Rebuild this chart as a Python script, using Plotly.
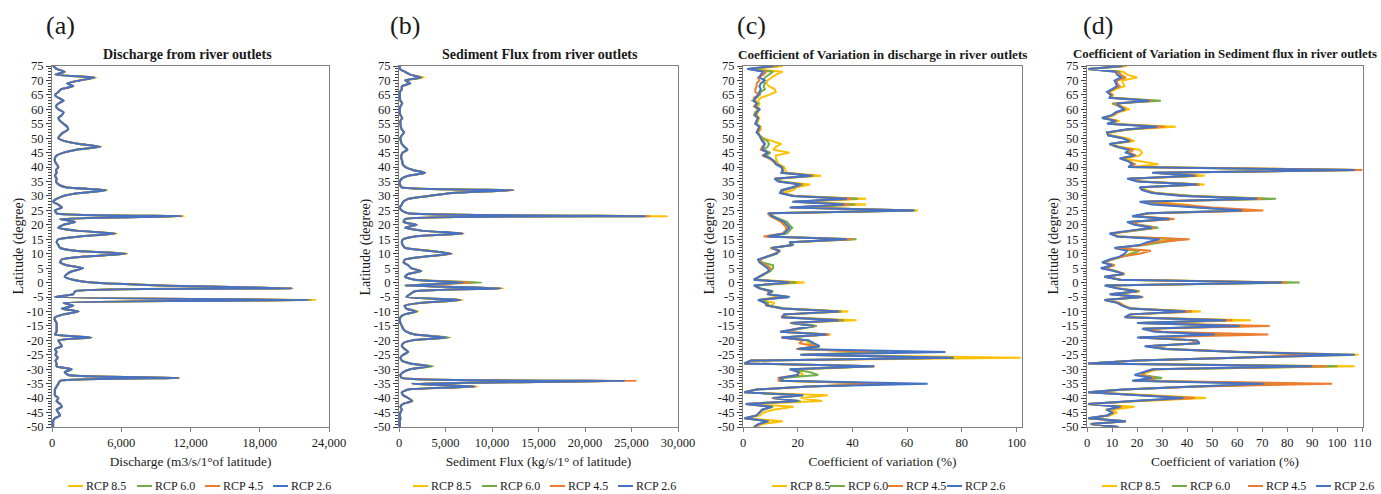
import plotly.graph_objects as go

W, H = 1381, 494

# ---------------- data (latitude from 75 down to -50, 1 degree step) ----------------
lat = list(range(75, -51, -1))

y_tick_vals = [75, 70, 65, 60, 55, 50, 45, 40, 35, 30, 25, 20, 15, 10, 5, 0,
               -5, -10, -15, -20, -25, -30, -35, -40, -45, -50]
y_tick_text = ["75", "70", "65", "60", "55", "50", "45", "40", "35", "30", "25", "20", "15", "10", "5", "0",
               "-5", "-10", "-15", "-20", "-25", "-30", "-35", "-40", "-45", "-50"]

series_names = ["RCP 8.5", "RCP 6.0", "RCP 4.5", "RCP 2.6"]
series_colors = ["#FFC000", "#70AD47", "#ED7D31", "#4472C4"]

# (a) Discharge (m3/s per 1 deg latitude)
a_rcp85 = [100, 400, 1100, 300, 3850, 2400, 1300, 1850, 800, 550,
           250, 550, 1000, 550, 350, 550, 1000, 850, 550, 700,
           1000, 1300, 1400, 1000, 700, 550, 1100, 2400, 4300, 2100,
           1000, 400, 250, 250, 400, 550, 350, 400, 250, 400,
           350, 550, 1200, 4800, 2400, 1000, 400, 100, 550, 850,
           250, 400, 11450, 700, 2000, 1000, 550, 2100, 5650, 2400,
           550, 400, 550, 700, 2000, 6500, 2800, 850, 700, 1300,
           2700, 1800, 1300, 1100, 1800, 3500, 9500, 20900, 2000, 1850,
           250, 22900, 1000, 1850, 850, 2300, 1000, 250, 250, 400,
           400, 400, 400, 250, 3450, 550, 700, 850, 250, 400,
           300, 500, 300, 400, 400, 1700, 1100, 1400, 11000, 700,
           550, 400, 250, 250, 250, 550, 400, 700, 850, 400,
           550, 700, 250, 100, 100, 100]
a_rcp60 = [100, 400, 1100, 300, 3700, 2400, 1300, 1850, 800, 550,
           250, 550, 1000, 550, 350, 550, 1000, 850, 550, 700,
           1000, 1300, 1400, 1000, 700, 550, 1100, 2400, 4200, 2100,
           1000, 400, 250, 250, 400, 550, 350, 400, 250, 400,
           350, 550, 1200, 4700, 2400, 1000, 400, 100, 550, 850,
           250, 400, 11200, 700, 2000, 1000, 550, 2100, 5500, 2400,
           550, 400, 550, 700, 2000, 6400, 2800, 850, 700, 1300,
           2700, 1800, 1300, 1100, 1800, 3500, 9500, 20800, 2000, 1850,
           250, 22500, 1000, 1850, 850, 2300, 1000, 250, 250, 400,
           400, 400, 400, 250, 3450, 550, 700, 850, 250, 400,
           300, 500, 300, 400, 400, 1700, 1100, 1400, 11000, 700,
           550, 400, 250, 250, 250, 550, 400, 700, 850, 400,
           550, 700, 250, 100, 100, 100]
a_rcp45 = [100, 400, 1100, 300, 3700, 2400, 1300, 1850, 800, 550,
           250, 550, 1000, 550, 350, 550, 1000, 850, 550, 700,
           1000, 1300, 1400, 1000, 700, 550, 1100, 2400, 4200, 2100,
           1000, 400, 250, 250, 400, 550, 350, 400, 250, 400,
           350, 550, 1200, 4700, 2400, 1000, 400, 100, 550, 850,
           250, 400, 11300, 700, 2000, 1000, 550, 2100, 5500, 2400,
           550, 400, 550, 700, 2000, 6500, 2800, 850, 700, 1300,
           2700, 1800, 1300, 1100, 1800, 3500, 9500, 20800, 2000, 1850,
           250, 22300, 1000, 1850, 850, 2300, 1000, 250, 250, 400,
           400, 400, 400, 250, 3400, 550, 700, 850, 250, 400,
           300, 500, 300, 400, 400, 1700, 1100, 1400, 11000, 700,
           550, 400, 250, 250, 250, 550, 400, 700, 850, 400,
           550, 700, 250, 100, 100, 100]
a_rcp26 = [100, 400, 1100, 300, 3700, 2400, 1300, 1850, 800, 550,
           250, 550, 1000, 550, 350, 550, 1000, 850, 550, 700,
           1000, 1300, 1400, 1000, 700, 550, 1100, 2400, 4200, 2100,
           1000, 400, 250, 250, 400, 550, 350, 400, 250, 400,
           350, 550, 1200, 4700, 2400, 1000, 400, 100, 550, 850,
           250, 400, 11200, 700, 2000, 1000, 550, 2100, 5500, 2400,
           550, 400, 550, 700, 2000, 6400, 2800, 850, 700, 1300,
           2700, 1800, 1300, 1100, 1800, 3500, 9500, 20800, 2000, 1850,
           250, 22200, 1000, 1850, 850, 2300, 1000, 250, 250, 400,
           400, 400, 400, 250, 3400, 550, 700, 850, 250, 400,
           300, 500, 300, 400, 400, 1700, 1100, 1400, 11000, 700,
           550, 400, 250, 250, 250, 550, 400, 700, 850, 400,
           550, 700, 250, 100, 100, 100]

# (b) Sediment flux (kg/s per 1 deg latitude)
b_rcp85 = [100, 100, 650, 1200, 2700, 650, 1200, 300, 300, 100,
           100, 100, 150, 350, 150, 100, 100, 150, 350, 150,
           150, 200, 300, 550, 300, 150, 200, 300, 600, 900,
           400, 250, 250, 350, 400, 700, 1500, 2800, 1000, 300,
           100, 100, 300, 12400, 5700, 3200, 1000, 450, 300, 100,
           300, 1000, 28900, 650, 500, 1900, 650, 2400, 7000, 1700,
           450, 300, 400, 650, 3200, 5700, 2800, 650, 500, 1000,
           1300, 2400, 1000, 650, 1700, 6900, 650, 11200, 1700, 1200,
           800, 6900, 2400, 600, 800, 2100, 600, 150, 100, 150,
           300, 450, 800, 1700, 5100, 1400, 450, 300, 600, 1000,
           450, 150, 300, 1200, 3300, 1200, 450, 150, 300, 24300,
           1400, 8500, 1000, 300, 450, 1000, 1500, 450, 150, 300,
           150, 100, 150, 100, 100, 100]
b_rcp60 = [100, 100, 650, 1200, 2400, 650, 1200, 300, 300, 100,
           100, 100, 150, 350, 150, 100, 100, 150, 350, 150,
           150, 200, 300, 550, 300, 150, 200, 300, 600, 900,
           400, 250, 250, 350, 400, 700, 1500, 2800, 1000, 300,
           100, 100, 300, 12300, 5700, 3200, 1000, 450, 300, 100,
           300, 1000, 26500, 650, 500, 1900, 650, 2400, 6900, 1700,
           450, 300, 400, 650, 3200, 5600, 2800, 650, 500, 1000,
           1300, 2400, 1000, 650, 1700, 8900, 650, 10900, 1700, 1200,
           800, 6600, 2400, 600, 800, 1900, 600, 150, 100, 150,
           300, 450, 800, 1700, 5500, 1400, 450, 300, 600, 1000,
           450, 150, 300, 1200, 3700, 1200, 450, 150, 300, 24300,
           1400, 8200, 1000, 300, 450, 1000, 1400, 450, 150, 300,
           150, 100, 150, 100, 100, 100]
b_rcp45 = [100, 100, 650, 1200, 2400, 650, 1200, 300, 300, 100,
           100, 100, 150, 350, 150, 100, 100, 150, 350, 150,
           150, 200, 300, 550, 300, 150, 200, 300, 600, 900,
           400, 250, 250, 350, 400, 700, 1500, 2800, 1000, 300,
           100, 100, 300, 12300, 5700, 3200, 1000, 450, 300, 100,
           300, 1000, 27000, 650, 500, 1900, 650, 2400, 6900, 1700,
           450, 300, 400, 650, 3200, 5700, 2800, 650, 500, 1000,
           1300, 2400, 1000, 650, 1700, 7800, 650, 11100, 1700, 1200,
           800, 6600, 2400, 600, 800, 1900, 600, 150, 100, 150,
           300, 450, 800, 1700, 5100, 1400, 450, 300, 600, 1000,
           450, 150, 300, 1200, 3300, 1200, 450, 150, 300, 25600,
           1400, 8200, 1000, 300, 450, 1000, 1400, 450, 150, 300,
           150, 100, 150, 100, 100, 100]
b_rcp26 = [100, 100, 650, 1200, 2400, 650, 1200, 300, 300, 100,
           100, 100, 150, 350, 150, 100, 100, 150, 350, 150,
           150, 200, 300, 550, 300, 150, 200, 300, 600, 900,
           400, 250, 250, 350, 400, 700, 1500, 2800, 1000, 300,
           100, 100, 300, 12300, 5700, 3200, 1000, 450, 300, 100,
           300, 1000, 26500, 650, 500, 1900, 650, 2400, 6900, 1700,
           450, 300, 400, 650, 3200, 5600, 2800, 650, 500, 1000,
           1300, 2400, 1000, 650, 1700, 6900, 650, 10900, 1700, 1200,
           800, 6600, 2400, 600, 800, 1900, 600, 150, 100, 150,
           300, 450, 800, 1700, 5100, 1400, 450, 300, 600, 1000,
           450, 150, 300, 1200, 3300, 1200, 450, 150, 300, 24300,
           1400, 8200, 1000, 300, 450, 1000, 1400, 450, 150, 300,
           150, 100, 150, 100, 100, 100]

# (c) Coefficient of variation in discharge (%)
c_rcp85 = [14.5, 3, 14.5, 12, 10.5, 9, 8.5, 9.5, 11.5, 12,
           9.5, 6.5, 5.5, 6, 5.5, 6, 5.5, 5, 6, 5.5,
           5, 6.5, 6.5, 5.5, 6, 7.5, 11, 14, 12, 11,
           17, 12, 12, 12.5, 13, 15, 15.5, 16, 28.5, 12,
           14, 24.5, 19.5, 18.5, 14.5, 19, 45, 19, 45, 18,
           64, 10, 10.5, 13, 14, 15, 16, 16, 15, 8.5,
           40, 17, 18, 10.5, 13, 12, 8.5, 6, 7, 9,
           10, 10, 8, 6, 4.5, 22.5, 4.5, 6, 10.5, 10,
           12, 6, 11.5, 10, 15.5, 38.5, 16, 15, 41.5, 17,
           26.5, 21, 14, 32, 14.5, 23, 24, 28, 20, 52,
           22, 101.5, 3, 0.5, 48, 22.5, 21, 22, 14, 14.5,
           52.5, 24, 5, 0.5, 31, 21, 29, 3, 18.5, 11,
           7.5, 6, 1, 14.5, 7, 4.5]
c_rcp60 = [13, 2, 11, 9.5, 8, 7.5, 8, 7.5, 8, 6.5,
           6, 5, 3.5, 5.5, 4.5, 6, 4.5, 4, 5.5, 5,
           5, 6, 5.5, 5, 6, 7, 9, 9.5, 9, 7.5,
           10, 8.5, 10, 11.5, 12.5, 14.5, 14.5, 15, 26, 12,
           13.5, 22, 19, 15, 14, 19, 42, 19, 41, 18,
           63, 10, 11, 13.5, 16, 17, 18, 17, 16, 9.5,
           41.5, 17.5, 18.5, 10.5, 13, 12.5, 9, 6, 7, 11,
           11, 10, 8, 6, 4, 19.5, 4.5, 6.5, 11, 9.5,
           17, 6, 9, 9.5, 15, 36, 15.5, 15, 37, 18,
           27, 20.5, 14, 31, 14.5, 24, 25, 28, 20.5, 53,
           21, 77, 3, 0.5, 48, 18, 24.5, 27.5, 14, 15,
           55, 24, 5, 0.5, 22, 12, 21, 1, 11, 7.5,
           6, 5, 1, 9.5, 6, 4]
c_rcp45 = [12, 2, 8.5, 7.5, 5.5, 6, 5, 5, 4.5, 4.5,
           6, 4, 4.5, 5, 4, 5.5, 5, 4.5, 5.5, 5,
           4.5, 6, 6, 5.5, 6, 6.5, 7.5, 8, 7, 6.5,
           9.5, 7, 9.5, 11, 12, 14, 14.5, 14.5, 25.5, 11.5,
           13, 21.5, 18.5, 14.5, 14, 18.5, 40, 18.5, 39, 17.5,
           62, 9, 10, 12, 14, 15, 16, 15.5, 14.5, 7.5,
           40, 17, 18, 10, 13.5, 11.5, 8.5, 6, 6.5, 8.5,
           10, 9.5, 7.5, 6, 4, 17.5, 4, 6, 9.5, 9,
           16.5, 5.5, 8, 8.5, 14, 35.5, 15, 14, 36, 18.5,
           26, 19.5, 14, 31.5, 14, 22, 20.5, 27, 19.5, 48,
           22, 76, 3, 0.5, 48, 17.5, 20, 20, 13, 13,
           53, 24, 5, 0.5, 21, 10.5, 19, 1, 10, 7,
           6, 5, 0.5, 9, 6, 4]
c_rcp26 = [11, 1.5, 7.5, 6.5, 6, 8, 6.5, 6, 6.5, 6,
           5.5, 4.5, 4, 5, 4.5, 6, 5, 4.5, 5.5, 5,
           4.5, 6, 5.5, 5, 6, 6.5, 7, 8, 7.5, 7,
           9, 7.5, 10, 11.5, 12, 14, 14.5, 14, 25, 11.5,
           13, 21, 18, 14, 13.5, 18, 38, 18, 37, 17,
           62.5, 9.5, 10.5, 13, 15, 16, 17, 16, 15, 9,
           38, 17, 18, 10.5, 13.5, 12, 8.5, 5.5, 6, 7.5,
           9, 9.5, 7.5, 5.5, 4, 17, 4, 6, 10.5, 9,
           17, 5.5, 8, 9, 14.5, 35, 15, 14.5, 35, 17.5,
           26, 20, 13.5, 30.5, 14, 24, 26, 28, 20, 74,
           21, 77, 3, 0.5, 48, 17, 20.5, 20, 13.5, 14,
           67.5, 24, 5, 0.5, 22, 11, 20, 1, 10.5, 7,
           6, 5, 0.5, 9, 5.5, 4]

# (d) Coefficient of variation in sediment flux (%)
d_rcp85 = [16, 0.5, 14.5, 16, 20, 14, 14.5, 15, 11.5, 9,
           10.5, 10, 27.5, 12, 14, 17, 12.5, 11, 7, 13,
           9, 35.5, 16.5, 9.5, 9.5, 16, 19, 10, 13, 21,
           22, 21, 14.5, 22, 28.5, 18, 109, 27.5, 47, 17,
           22, 47, 22, 23.5, 27.5, 42, 72, 24, 40, 47,
           65, 25, 19, 34.5, 17, 20, 27, 18, 10, 12.5,
           35, 26, 22, 11.5, 20, 17, 14, 9.5, 6.5, 10.5,
           6.5, 11.5, 15, 7.5, 13.5, 80, 7.5, 12.5, 21, 9.5,
           22, 7.5, 13, 15, 18, 45.5, 18, 16, 65.5, 21,
           66, 23, 29, 60, 21.5, 42, 44, 24, 32, 62,
           108.5, 60, 20, 0.5, 107, 28, 24, 21, 28, 19,
           85, 43, 15, 0.5, 25, 47.5, 22, 0.5, 19, 10,
           12, 9, 0.5, 15.5, 1.5, 12.5]
d_rcp60 = [15, 0.5, 13, 13, 14, 12, 12, 13, 10.5, 8.5,
           10, 9.5, 29.5, 10, 13, 15, 12, 10, 6, 12,
           8.5, 30, 16, 8, 8.5, 14.5, 17.5, 9, 11.5, 17,
           16, 19, 13.5, 17, 19, 17, 108, 27, 44, 16.5,
           21, 45, 21.5, 23, 27, 43, 75.5, 22, 30, 45,
           64, 24.5, 18.5, 34, 17, 21, 28.5, 18, 10, 12,
           38, 30, 23, 11, 21, 18, 14, 9.5, 6.5, 11,
           7, 11, 15, 7, 13.5, 85, 7.5, 12.5, 21, 9.5,
           22, 7, 12.5, 14.5, 17.5, 41, 17.5, 15.5, 56, 20.5,
           63, 22.5, 29, 55, 21, 43.5, 45, 24, 32, 61,
           95, 60, 20, 0.5, 100, 27, 23, 22, 30, 19,
           80, 42, 15, 0.5, 21, 41, 19, 0.5, 14, 7.5,
           10.5, 8.5, 0.5, 15.5, 1.5, 12.5]
d_rcp45 = [15, 0.5, 12, 13.5, 15.5, 12, 12, 13, 10.5, 8.5,
           10, 9.5, 26, 11, 13.5, 15.5, 12, 10.5, 6.5, 12,
           8.5, 31, 16, 8.5, 8.5, 14.5, 17.5, 9.5, 12, 18.5,
           17, 19.5, 13.5, 17, 19, 17, 110, 27, 44, 16.5,
           21, 45, 22, 23, 27, 40, 70, 23, 36, 50,
           70.5, 25, 19, 35, 18, 20, 27, 18, 9.5, 12.5,
           41, 27, 22, 11.5, 25.5, 21, 14, 9.5, 6.5, 11,
           6.5, 11, 15, 7, 13.5, 80, 7.5, 12.5, 20.5, 9.5,
           22.5, 7, 12.5, 14.5, 17.5, 42, 17.5, 16, 58, 21,
           73, 23, 30, 72.5, 21, 42, 44, 24, 32, 62,
           93, 59, 20, 0.5, 96, 27, 23, 22, 27, 19,
           98, 45, 15, 0.5, 22, 43, 19, 0.5, 14, 8,
           10.5, 8.5, 0.5, 15.5, 1.5, 12.5]
d_rcp26 = [14, 0.5, 11.5, 12, 13.5, 11, 11.5, 12, 10, 8,
           9.5, 9, 25, 12, 13, 15, 11.5, 10, 6, 11.5,
           8, 28, 15.5, 8, 8.5, 14, 17, 9, 12.5, 16.5,
           15.5, 19, 13, 16.5, 18, 16.5, 107, 26, 43, 16,
           20, 44, 21, 22, 26, 38, 68, 21, 26, 45,
           62, 24, 18, 33, 16, 19, 26, 17, 9, 12,
           29, 24, 21, 11, 16, 15, 13, 9, 6, 10,
           5.5, 11, 14.5, 7, 13, 78, 7, 12, 20, 9,
           22, 7, 12, 14, 17, 39.5, 17, 15, 55.5, 20,
           61, 22, 27, 51, 20, 44, 45, 23, 31, 60,
           107, 60, 20, 0.5, 90, 26, 22, 19, 26, 18,
           70.5, 40, 14, 0.5, 20, 38.5, 18, 0.5, 13, 8,
           10, 8, 0.5, 15.5, 1.5, 12.5]

# x-axis ticks per panel
a_xticks = [0, 6000, 12000, 18000, 24000]
a_xlabels = ["0", "6,000", "12,000", "18,000", "24,000"]
b_xticks = [0, 5000, 10000, 15000, 20000, 25000, 30000]
b_xlabels = ["0", "5,000", "10,000", "15,000", "20,000", "25,000", "30,000"]
c_xticks = [0, 20, 40, 60, 80, 100]
c_xlabels = ["0", "20", "40", "60", "80", "100"]
d_xticks = [0, 10, 20, 30, 40, 50, 60, 70, 80, 90, 100, 110]
d_xlabels = ["0", "10", "20", "30", "40", "50", "60", "70", "80", "90", "100", "110"]

panel_labels = ["(a)", "(b)", "(c)", "(d)"]
panel_titles = ["Discharge from river outlets",
                "Sediment Flux from river outlets",
                "Coefficient of Variation in discharge in river outlets",
                "Coefficient of Variation in Sediment flux in river outlets"]
x_titles = ["Discharge (m3/s/1°of latitude)",
            "Sediment Flux (kg/s/1° of latitude)",
            "Coefficient of variation (%)",
            "Coefficient of variation (%)"]
y_title = "Latitude (degree)"

# ---------------- layout geometry (pixels) ----------------
FONT = "Liberation Serif"
TXT = "#1a1a1a"
AXC = "#7f7f7f"


def px(x):
    return x / W


def py(y):
    return 1 - y / H


plot_left = [52, 399, 743, 1087]
plot_right = [329, 678, 1022, 1363]
plot_top, plot_bottom = 66, 427
x_ranges = [[0, 24000], [0, 30000], [0, 102], [0, 110.3]]
label_x = [60, 405, 751, 1098]
title_sizes = [14, 14, 13.2, 12.8]
title_x = [187, 540, 883, 1379]
title_anchor = ["center", "center", "center", "right"]
# legend key start positions (px) for each panel, key length
legend_keys = [[68, 137, 205, 273], [413, 482, 550, 618],
               [772, 830, 888, 947], [1102, 1172, 1248, 1316]]
KEY_LEN = 15
LEG_Y = 486

panels = [
    (a_rcp85, a_rcp60, a_rcp45, a_rcp26, a_xticks, a_xlabels, "spline"),
    (b_rcp85, b_rcp60, b_rcp45, b_rcp26, b_xticks, b_xlabels, "spline"),
    (c_rcp85, c_rcp60, c_rcp45, c_rcp26, c_xticks, c_xlabels, "linear"),
    (d_rcp85, d_rcp60, d_rcp45, d_rcp26, d_xticks, d_xlabels, "linear"),
]

fig = go.Figure()
layout = dict(
    width=W, height=H,
    margin=dict(l=0, r=0, t=0, b=0, pad=0),
    paper_bgcolor="white", plot_bgcolor="white",
    font=dict(family=FONT, color=TXT, size=12),
    showlegend=False,
    annotations=[], shapes=[],
)

for i, (s85, s60, s45, s26, xt, xl, shape) in enumerate(panels):
    k = i + 1
    suf = "" if k == 1 else str(k)
    for name, color, vals in zip(series_names, series_colors, [s85, s60, s45, s26]):
        line = dict(color=color, width=2, shape=shape)
        if shape == "spline":
            line["smoothing"] = 0.5
        fig.add_trace(go.Scatter(
            x=vals, y=lat, mode="lines", name=name, line=line,
            xaxis="x" + suf, yaxis="y" + suf, showlegend=False,
        ))
    layout["xaxis" + suf] = dict(
        domain=[px(plot_left[i]), px(plot_right[i])], anchor="y" + suf,
        range=x_ranges[i], tickmode="array", tickvals=xt, ticktext=xl,
        ticks="outside", ticklen=4, tickcolor=AXC, showgrid=False, zeroline=False,
        showline=True, linecolor=AXC, linewidth=1, mirror=True,
        tickfont=dict(family=FONT, size=12.5, color=TXT),
        title=dict(text=x_titles[i], font=dict(family=FONT, size=13.3, color=TXT), standoff=7),
        automargin=False, fixedrange=True,
    )
    layout["yaxis" + suf] = dict(
        domain=[py(plot_bottom), py(plot_top)], anchor="x" + suf,
        range=[-50, 75], tickmode="array", tickvals=y_tick_vals, ticktext=y_tick_text,
        ticks="outside", ticklen=5, tickcolor="#404040", showgrid=False, zeroline=False,
        minor=dict(tickmode="linear", tick0=0, dtick=1, ticks="outside", ticklen=3, tickcolor="#404040"),
        showline=True, linecolor=AXC, linewidth=1, mirror=True,
        tickfont=dict(family=FONT, size=12.5, color=TXT),
        automargin=False, fixedrange=True,
    )
    # y-axis title
    layout["annotations"].append(dict(
        text=y_title, x=px(plot_left[i] - 34), y=py((plot_top + plot_bottom) / 2),
        xref="paper", yref="paper", xanchor="center", yanchor="middle",
        textangle=-90, showarrow=False, font=dict(family=FONT, size=14, color=TXT),
    ))
    layout["annotations"].append(dict(
        text=panel_labels[i], x=px(label_x[i]), y=py(26), xref="paper", yref="paper",
        xanchor="center", yanchor="middle", showarrow=False,
        font=dict(family=FONT, size=26, color=TXT),
    ))
    layout["annotations"].append(dict(
        text="<b>" + panel_titles[i] + "</b>",
        x=px(title_x[i]), y=py(54), xref="paper", yref="paper",
        xanchor=title_anchor[i], yanchor="middle", showarrow=False,
        font=dict(family=FONT, size=title_sizes[i], color=TXT),
    ))
    # legend (one per panel, below the axis title)
    for name, color, x0 in zip(series_names, series_colors, legend_keys[i]):
        layout["shapes"].append(dict(
            type="line", xref="paper", yref="paper",
            x0=px(x0), x1=px(x0 + KEY_LEN), y0=py(LEG_Y), y1=py(LEG_Y),
            line=dict(color=color, width=2),
        ))
        layout["annotations"].append(dict(
            text=name, x=px(x0 + KEY_LEN + 1), y=py(LEG_Y), xref="paper", yref="paper",
            xanchor="left", yanchor="middle", showarrow=False,
            font=dict(family=FONT, size=12, color=TXT),
        ))

fig.update_layout(**layout)
fig.write_html("out.html",
               config={"displayModeBar": False, "staticPlot": True},
               post_script="document.body.style.margin='0px';document.body.style.padding='0px';")
